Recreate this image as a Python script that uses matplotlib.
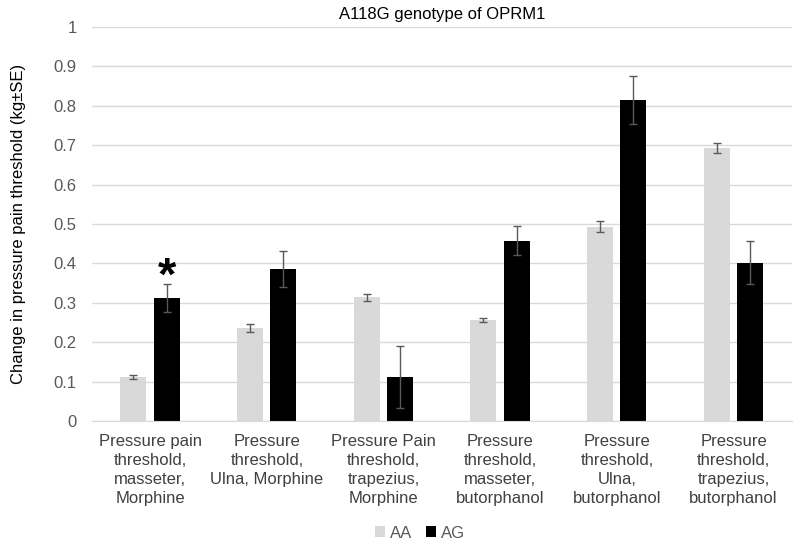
import matplotlib.pyplot as plt
import numpy as np

plt.rcParams['font.family'] = ['Liberation Sans', 'DejaVu Sans']

categories = ['Pressure pain\nthreshold,\nmasseter,\nMorphine',
              'Pressure\nthreshold,\nUlna, Morphine',
              'Pressure Pain\nthreshold,\ntrapezius,\nMorphine',
              'Pressure\nthreshold,\nmasseter,\nbutorphanol',
              'Pressure\nthreshold,\nUlna,\nbutorphanol',
              'Pressure\nthreshold,\ntrapezius,\nbutorphanol']
aa = [0.112, 0.237, 0.314, 0.256, 0.493, 0.693]
aa_err = [0.005, 0.010, 0.009, 0.005, 0.014, 0.013]
ag = [0.312, 0.385, 0.111, 0.458, 0.815, 0.402]
ag_err = [0.035, 0.046, 0.079, 0.036, 0.061, 0.055]

fig = plt.figure(figsize=(8, 5.42), dpi=100)
ax = fig.add_axes([0.115, 0.2232, 0.875, 0.7268])

x = np.arange(len(categories))
w = 0.223
err_kw = dict(ecolor='#595959', elinewidth=1, capsize=3, capthick=1)
ax.bar(x - 0.145, aa, w, yerr=aa_err, color='#d9d9d9', label='AA', error_kw=err_kw, zorder=2)
ax.bar(x + 0.14, ag, w, yerr=ag_err, color='black', label='AG', error_kw=err_kw, zorder=2)

# significance marker
ax.text(x[0] + 0.14, ag[0] + ag_err[0] - 0.04, '*', ha='center', va='bottom',
        fontsize=34, fontweight='bold')

ax.set_xlim(-0.5, len(categories) - 0.5)
ax.set_ylim(0, 1)
ax.set_yticks(np.arange(0, 1.01, 0.1))
ax.set_yticklabels(['0', '0.1', '0.2', '0.3', '0.4', '0.5', '0.6', '0.7', '0.8', '0.9', '1'])
ax.set_xticks(x)
ax.set_xticklabels(categories, linespacing=1.35, fontsize=12, color='#404040')
ax.tick_params(axis='y', length=0, labelsize=12, labelcolor='#595959', pad=11)
ax.tick_params(axis='x', length=0, pad=9)
ax.yaxis.grid(True, color='#d9d9d9', linewidth=1, zorder=0)
ax.set_axisbelow(True)
for s in ['left', 'right', 'top']:
    ax.spines[s].set_visible(False)
ax.spines['bottom'].set_color('#d9d9d9')

ax.set_ylabel('Change in pressure pain threshold (kg±SE)', fontsize=12, labelpad=20)
ax.set_title('A118G genotype of OPRM1', fontsize=12, pad=6)

fig.legend(loc='lower center', bbox_to_anchor=(0.525, -0.025), ncol=2, frameon=False,
           fontsize=12, handlelength=0.6, handleheight=0.6, columnspacing=0.8,
           handletextpad=0.3, labelcolor='#595959')

fig.savefig('out.png', dpi=100)
